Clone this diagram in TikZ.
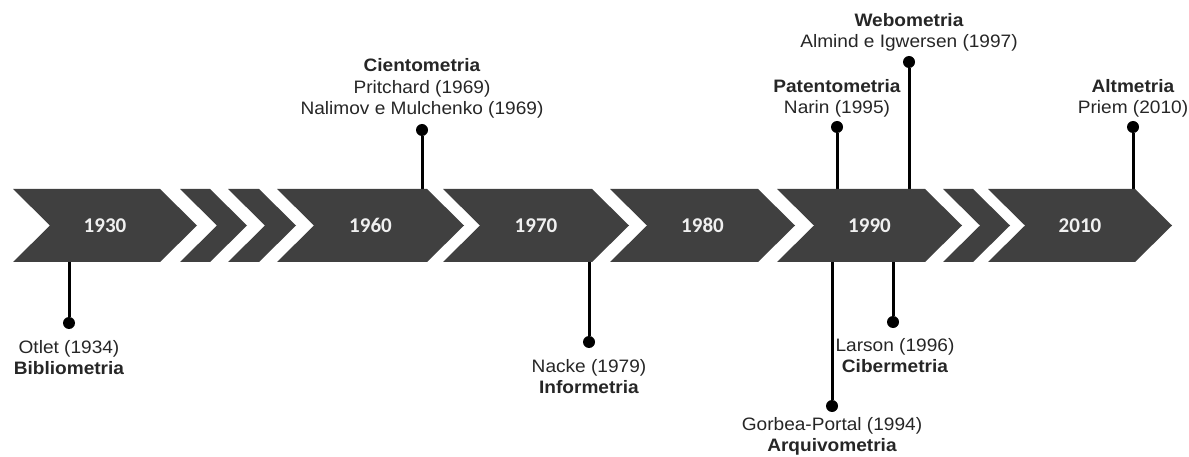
\documentclass[tikz,border=0pt]{standalone}
\usepackage{fontspec}
\setmainfont{Liberation Sans}[FakeStretch=1.06]
\newfontfamily\yearfont{Carlito}
\usetikzlibrary{positioning}
\definecolor{chevgray}{RGB}{64,64,64}

\begin{document}
\begin{tikzpicture}[
    x=1pt, y=-1pt,
    chev/.style={fill=chevgray},
    year/.style={text=white!94!black, font={\yearfont\bfseries\fontsize{21}{24}\selectfont}},
    stem/.style={line width=3pt},
    dot/.style={circle, fill=black, inner sep=0pt, minimum size=12pt},
    lbl/.style={align=center, inner sep=0pt, text=black!85, font={\fontsize{18}{21.5}\selectfont}}
]
    \useasboundingbox (0,0) rectangle (1189,457);

    % Band edges
    \coordinate (top) at (0,189);
    \coordinate (bot) at (0,262);

    % Draw dots above the band
    \node[dot] (cient)  at (422,130) {};
    \node[dot] (patent) at (837,127) {};
    \node[dot] (webo)   at (909,62)  {};
    \node[dot] (altm)   at (1133,127) {};

    % Draw dots below the band
    \node[dot] (otlet)  at (69,323)  {};
    \node[dot] (nacke)  at (589,342) {};
    \node[dot] (gorbea) at (832,406) {};
    \node[dot] (larson) at (893,322) {};

    % Draw stems
    \draw[stem] (cient) -- (cient |- top);
    \draw[stem] (patent) -- (patent |- top);
    \draw[stem] (webo) -- (webo |- top);
    \draw[stem] (altm) -- (altm |- top);
    \draw[stem] (otlet) -- (otlet |- bot);
    \draw[stem] (nacke) -- (nacke |- bot);
    \draw[stem] (gorbea) -- (gorbea |- bot);
    \draw[stem] (larson) -- (larson |- bot);

    % Draw chevrons
    \foreach \l/\r/\yr in {13/160/1930, 277/427/1960, 443/592/1970, 610/758/1980, 777/925/1990, 988/1135/2010} {
        \fill[chev] (\l,189) -- (\r,189) -- (\r+37,225.5) -- (\r,262) -- (\l,262) -- (\l+37,225.5) -- cycle;
        \node[year] (y\yr) at ({(\l+\r+37)/2},225.5) {\yr};
    }
    \foreach \l/\r in {180/210, 228/259, 943/973}
        \fill[chev] (\l,189) -- (\r,189) -- (\r+37,225.5) -- (\r,262) -- (\l,262) -- (\l+37,225.5) -- cycle;

    % Labels
    \node[lbl, above=5pt of cient] (cientlbl) {\textbf{Cientometria}\\Pritchard (1969)\\Nalimov e Mulchenko (1969)};
    \node[lbl, above=3pt of patent] (patentlbl) {\textbf{Patentometria}\\Narin (1995)};
    \node[lbl, above=4pt of webo] (webolbl) {\textbf{Webometria}\\Almind e Igwersen (1997)};
    \node[lbl, above=3pt of altm] (altmlbl) {\textbf{Altmetria}\\Priem (2010)};
    \node[lbl, below=11pt of otlet] (otletlbl) {Otlet (1934)\\\textbf{Bibliometria}};
    \node[lbl, below=11pt of nacke] (nackelbl) {Nacke (1979)\\\textbf{Informetria}};
    \node[lbl, below=5pt of gorbea] (gorbealbl) {Gorbea-Portal (1994)\\\textbf{Arquivometria}};
    \node[lbl, below=10pt of larson, xshift=2pt] (larsonlbl) {Larson (1996)\\\textbf{Cibermetria}};

\end{tikzpicture}
\end{document}
